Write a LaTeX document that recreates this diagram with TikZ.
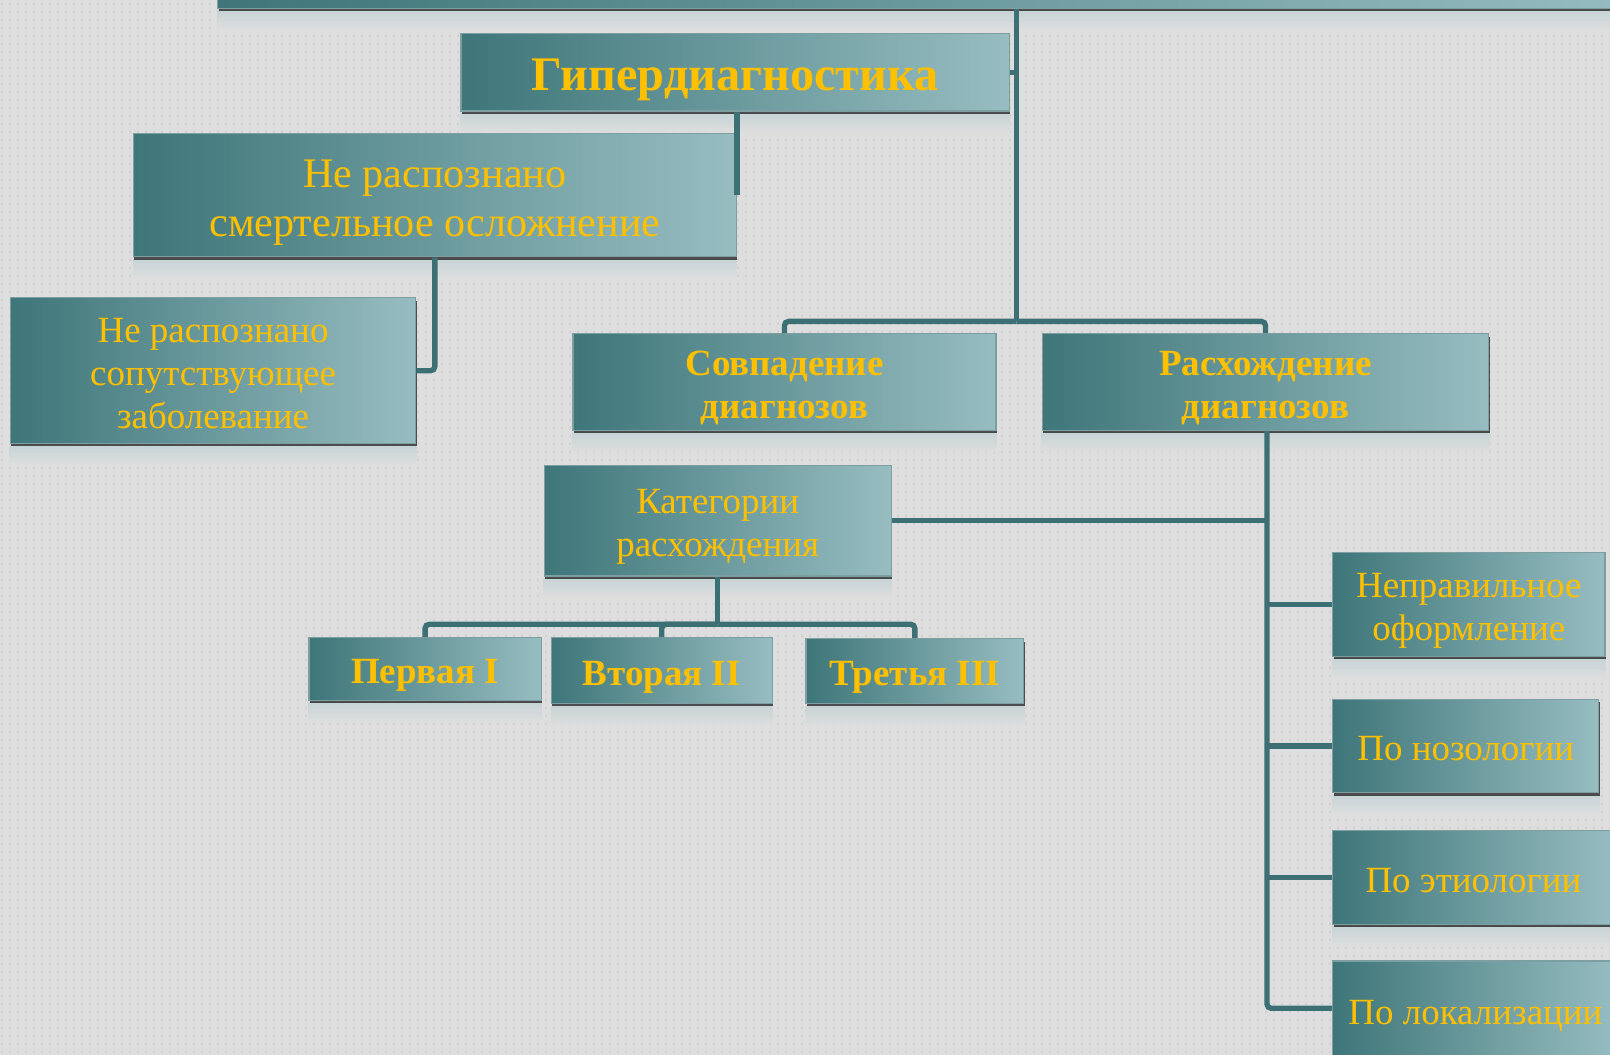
\documentclass[tikz,border=0pt]{standalone}
\usepackage{fontspec}
\setmainfont{Liberation Serif}
\usetikzlibrary{shadows,backgrounds,patterns.meta}
\definecolor{bgcol}{HTML}{DEDEDE}
\definecolor{dotcol}{HTML}{CFCFCF}
\definecolor{boxdark}{HTML}{3E7679}
\definecolor{boxlight}{HTML}{97BDC1}
\definecolor{edgecol}{HTML}{7E9FA1}
\definecolor{conncol}{HTML}{3D7074}
\definecolor{goldcol}{HTML}{FFC000}
\definecolor{reflcol}{HTML}{C4D3D5}
\newcommand\boxtext[2][3pt]{\raisebox{-#1}[\height][\depth]{\begin{tabular}{@{}c@{}}#2\end{tabular}}}
\tikzdeclarepattern{
  name=bgdots,
  type=colored,
  bounding box={(0pt,0pt) and (4pt,4pt)},
  tile size={(4pt,4pt)},
  code={\fill[dotcol] (1.2pt,1pt) rectangle (2pt,2.4pt);}
}
\begin{document}
\begin{tikzpicture}[x=0.5pt,y=-0.5pt,
  box/.style={draw=edgecol, line width=0.6pt, left color=boxdark, right color=boxlight,
    text=goldcol, inner sep=0pt,
    drop shadow={shadow xshift=0.4pt, shadow yshift=-1.4pt, opacity=0.65, fill=black}},
  tmid/.style={font=\fontsize{18pt}{21pt}\selectfont},
  tbold/.style={font=\fontsize{18pt}{21pt}\selectfont\bfseries},
  tbig/.style={font=\fontsize{20.5pt}{23.5pt}\selectfont},
  ttitle/.style={font=\fontsize{23.5pt}{27pt}\selectfont\bfseries},
  link/.style={draw=conncol, line width=2.6pt, rounded corners=2pt}]
\useasboundingbox (0,0) rectangle (1568,1027);
\begin{scope}[on background layer]
  \fill[bgcol] (0,0) rectangle (1568,1027);
  \fill[pattern=bgdots] (0,0) rectangle (1568,1027);
\end{scope}

% boxes
\node[box, minimum width=699pt, minimum height=38pt] (topbar) at (911,-30) {};
\node[box, ttitle, minimum width=267pt, minimum height=37.5pt] (hyper) at (716,70.5) {\boxtext[3.5pt]{Гипердиагностика}};
\node[box, tbig, minimum width=293.5pt, minimum height=60pt] (nr1) at (423.5,190) {\boxtext[3.5pt]{Не распознано\\смертельное осложнение}};
\node[box, tmid, minimum width=197.5pt, minimum height=71pt] (nr2) at (207.5,361) {\boxtext{Не распознано\\сопутствующее\\заболевание}};
\node[box, tbold, minimum width=206pt, minimum height=47pt] (sovp) at (764,372) {\boxtext{Совпадение\\диагнозов}};
\node[box, tbold, minimum width=217.5pt, minimum height=47pt] (rash) at (1232.5,372) {\boxtext{Расхождение\\диагнозов}};
\node[box, tmid, minimum width=169pt, minimum height=54pt] (kat) at (699,507) {\boxtext{Категории\\расхождения}};
\node[box, tbold, minimum width=113pt, minimum height=30.5pt] (first) at (414,651.5) {\boxtext{Первая I}};
\node[box, tbold, minimum width=107.5pt, minimum height=32pt] (second) at (644.5,653) {\boxtext{Вторая II}};
\node[box, tbold, minimum width=106pt, minimum height=31.5pt] (third) at (891,653.5) {\boxtext{Третья III}};
\node[box, tmid, minimum width=132.5pt, minimum height=50.5pt] (nepr) at (1430.5,588.5) {\boxtext{Неправильное\\оформление}};
\node[box, tmid, minimum width=129.5pt, minimum height=45.5pt] (noz) at (1427.5,726.5) {\boxtext{По нозологии}};
\node[box, tmid, minimum width=137pt, minimum height=45.5pt] (etio) at (1435,854.5) {\boxtext{По этиологии}};
\node[box, tmid, minimum width=139pt, minimum height=46pt] (lok) at (1437,982) {\boxtext[3.5pt]{По локализации}};

% reflections
\begin{scope}[on background layer]
  \foreach \b in {topbar,hyper,nr1,nr2,sovp,rash,kat,first,second,third,nepr,noz,etio,lok}
    \shade[top color=reflcol, bottom color=bgcol, opacity=0.85] ([yshift=-1pt]\b.south west) rectangle ([yshift=-10pt]\b.south east);
\end{scope}

% connectors
\coordinate (j1) at (990,313);
\coordinate (j2) at (699,608);
\coordinate (j3) at (1234,372);
\draw[link] (topbar.south -| j1) -- (j1);
\draw[link] (j1) -| (sovp.north);
\draw[link] (j1) -| (rash.north);
\draw[link] (hyper.east) -- (hyper.east -| j1);
\draw[link] (hyper.south -| nr1.east) -- (nr1.east);
\draw[link] (nr1.south) |- (nr2.east);
\draw[link] (rash.south -| j3) |- (lok.west);
\draw[link] (kat.east) -- (kat.east -| j3);
\draw[link] (nepr.west) -- (nepr.west -| j3);
\draw[link] (noz.west) -- (noz.west -| j3);
\draw[link] (etio.west) -- (etio.west -| j3);
\draw[link] (kat.south) -- (j2);
\draw[link] (j2) -| (first.north);
\draw[link] (j2) -| (second.north);
\draw[link] (j2) -| (third.north);
\end{tikzpicture}
\end{document}
